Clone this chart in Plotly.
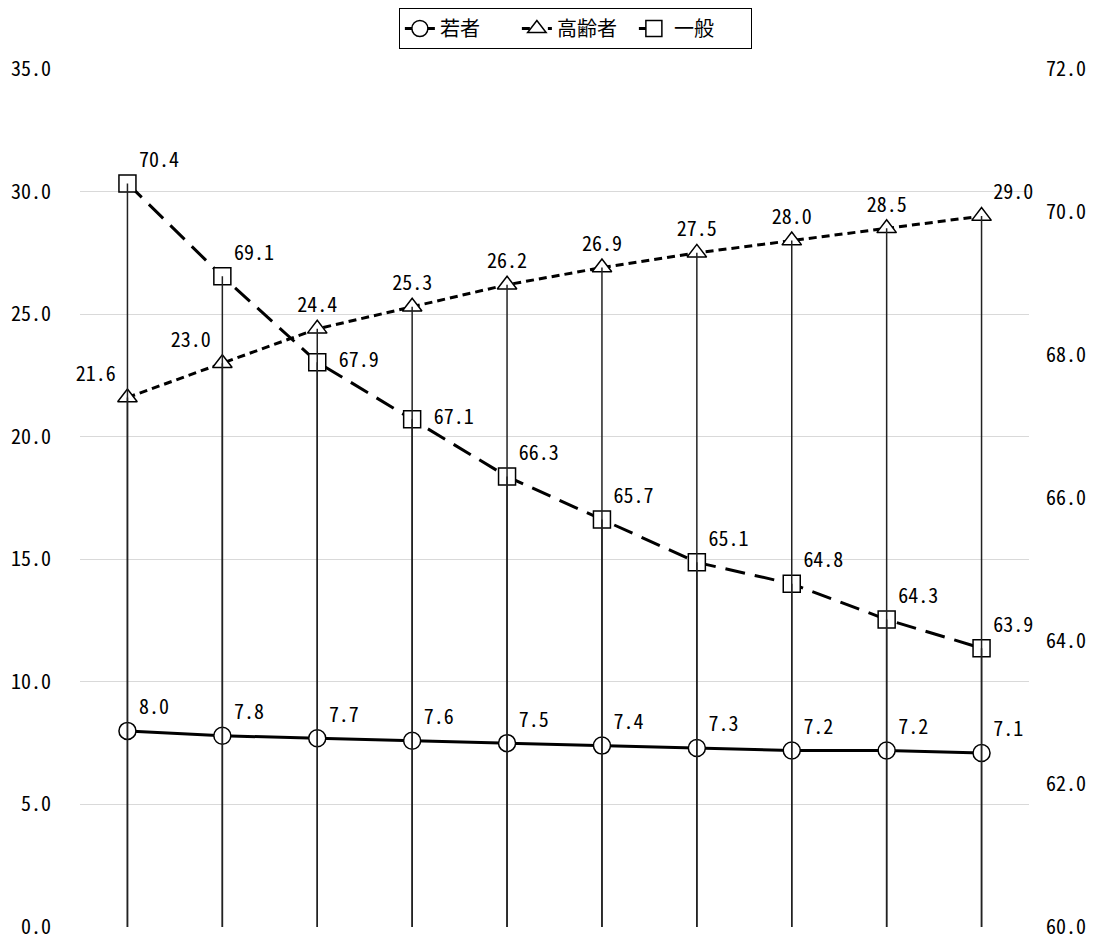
import plotly.graph_objects as go

categories = ["1", "2", "3", "4", "5", "6", "7", "8", "9", "10"]
wakamono = [8.0, 7.8, 7.7, 7.6, 7.5, 7.4, 7.3, 7.2, 7.2, 7.1]
koreisha = [21.6, 23.0, 24.4, 25.3, 26.2, 26.9, 27.5, 28.0, 28.5, 29.0]
ippan = [70.4, 69.1, 67.9, 67.1, 66.3, 65.7, 65.1, 64.8, 64.3, 63.9]

names = ["若者", "高齢者", "一般"]

FONT = "Noto Sans Mono CJK JP, Noto Sans CJK JP, monospace"
FS = 20
x = list(range(len(categories)))

fig = go.Figure()

fig.add_trace(go.Scatter(
    x=x, y=wakamono, name=names[0], mode="lines+markers+text",
    line=dict(color="black", width=3),
    marker=dict(symbol="circle", size=17, color="white", line=dict(color="black", width=1.5)),
    texttemplate="%{y:.1f}", textposition="top right",
    textfont=dict(size=FS, color="black", family=FONT),
    cliponaxis=False,
))

k_pos = ["top left", "top left", "top center", "top center", "top center",
         "top center", "top center", "top center", "top center", "top right"]
fig.add_trace(go.Scatter(
    x=x, y=koreisha, name=names[1], mode="lines+markers+text",
    line=dict(color="black", width=3, dash="8px,5px"),
    marker=dict(symbol="triangle-up", size=17, color="white", line=dict(color="black", width=1.5)),
    texttemplate="%{y:.1f}", textposition=k_pos,
    textfont=dict(size=FS, color="black", family=FONT),
    cliponaxis=False,
))

i_pos = ["top right", "top right", "middle right", "middle right", "top right",
         "top right", "top right", "top right", "top right", "top right"]
i_text = ["%{y:.1f}", "%{y:.1f}", " %{y:.1f}", " %{y:.1f}", "%{y:.1f}",
          "%{y:.1f}", "%{y:.1f}", "%{y:.1f}", "%{y:.1f}", "%{y:.1f}"]
fig.add_trace(go.Scatter(
    x=x, y=ippan, name=names[2], mode="lines+markers+text", yaxis="y2",
    line=dict(color="black", width=3, dash="20px,10px"),
    marker=dict(symbol="square", size=17, color="white", line=dict(color="black", width=1.5)),
    texttemplate=i_text, textposition=i_pos,
    textfont=dict(size=FS, color="black", family=FONT),
    cliponaxis=False,
))

shapes = []
for i in x:
    shapes.append(dict(type="line", xref="x", yref="y", x0=i, x1=i, y0=0, y1=koreisha[i],
                       line=dict(color="#222222", width=1.5), layer="above"))
    shapes.append(dict(type="line", xref="x", yref="y2", x0=i, x1=i, y0=60, y1=ippan[i],
                       line=dict(color="#222222", width=1.5), layer="above"))

fig.update_layout(
    width=1091, height=935,
    margin=dict(l=72, r=70, t=61, b=16, autoexpand=False),
    paper_bgcolor="white", plot_bgcolor="white",
    font=dict(family=FONT, size=FS, color="black"),
    shapes=shapes,
    showlegend=True,
    legend=dict(orientation="h", x=0.522, xanchor="center", xref="paper",
                y=1.0, yanchor="top", yref="container",
                bordercolor="black", borderwidth=1, bgcolor="white",
                font=dict(size=FS, family=FONT), entrywidth=72, tracegroupgap=0),
    xaxis=dict(range=[-0.5, 9.5], showticklabels=False, showgrid=False, zeroline=False,
               showline=False, ticks="", automargin=False),
    yaxis=dict(range=[0, 35], dtick=5, tickformat=".1f", showgrid=True, gridcolor="#d9d9d9",
               gridwidth=1, zeroline=False, showline=False, ticks="", ticklabelstandoff=28,
               tickfont=dict(size=FS, family=FONT), automargin=False),
    yaxis2=dict(range=[60, 72], dtick=2, tickformat=".1f", overlaying="y", side="right",
                showgrid=False, zeroline=False, showline=False, ticks="", ticklabelstandoff=16,
                tickfont=dict(size=FS, family=FONT), automargin=False),
)

fig.write_html("out.html")
